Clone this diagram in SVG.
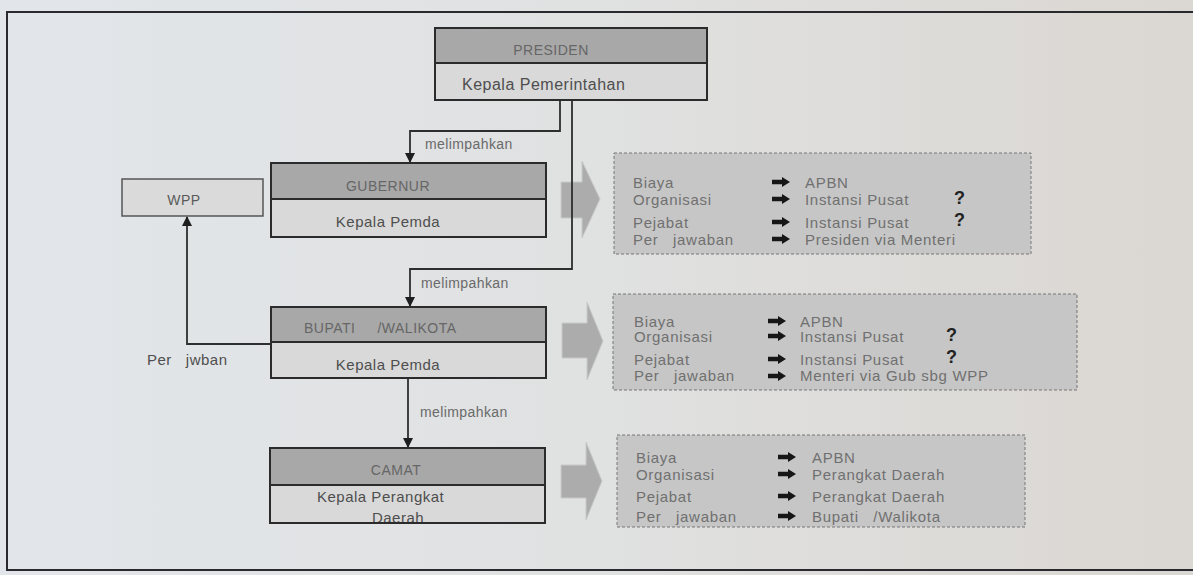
<svg xmlns="http://www.w3.org/2000/svg" width="1193" height="575" viewBox="0 0 1193 575">
<defs>
<linearGradient id="bg" x1="0" y1="0" x2="1" y2="0">
<stop offset="0" stop-color="#e2e6ea"/>
<stop offset="0.5" stop-color="#e0e1e1"/>
<stop offset="1" stop-color="#dbd7d2"/>
</linearGradient>
<marker id="ah" viewBox="0 0 10 10" refX="9" refY="5" markerWidth="10" markerHeight="10" markerUnits="userSpaceOnUse" orient="auto">
<path d="M0,0 L10,5 L0,10 Z" fill="#1e1e1e"/>
</marker>
<path id="sa" d="M0,-2.2 H10 V-5 L18,0 L10,5 V2.2 H0 Z"/>
</defs>
<style>
.frame{fill:none;stroke:#2a2a2e;stroke-width:2}
.hdr{fill:#a8a8a8;stroke:#2b2b2b;stroke-width:2}
.low{fill:#d9d9d9;stroke:#2b2b2b;stroke-width:2}
.wpp{fill:#dadada;stroke:#555;stroke-width:1.5}
.conn{fill:none;stroke:#2e2e2e;stroke-width:1.8}
.big{fill:#acacac;stroke:#c9c9c9;stroke-width:1}
.info{fill:#c6c6c6;stroke:#777;stroke-width:1;stroke-dasharray:3,2}
.nt{font-family:"Liberation Sans",Arial,sans-serif;font-size:15px;fill:#4e4e4e;letter-spacing:0.5px}
.ht{font-family:"Liberation Sans",Arial,sans-serif;font-size:14px;fill:#6a6a6a;letter-spacing:0.4px}
.it{font-family:"Liberation Sans",Arial,sans-serif;font-size:15px;fill:#707070;letter-spacing:0.7px}
.q{font-family:"Liberation Sans",Arial,sans-serif;font-size:18px;fill:#222;font-weight:bold}
.sa{fill:#161616}
</style>
<rect x="0" y="0" width="1193" height="575" fill="url(#bg)"/>
<rect class="frame" x="7" y="12" width="1200" height="558"/>

<g id="connectors">
<path class="conn" d="M560,100 V131 H410 V162" marker-end="url(#ah)"/>
<path class="conn" d="M408,378 V447" marker-end="url(#ah)"/>
<path class="conn" d="M271,344 H187 V217" marker-end="url(#ah)"/>
<text class="ht" x="425" y="149">melimpahkan</text>
<text class="ht" x="421" y="288">melimpahkan</text>
<text class="ht" x="420" y="417">melimpahkan</text>
<text class="nt" x="147" y="365" xml:space="preserve">Per   jwban</text>
</g>

<g id="arrow1">
<path class="big" d="M561,182 H582 V161 L600,199 L582,238 V218 H561 Z"/>
</g>
<g id="arrow2">
<path class="big" d="M562,323 H587 V302 L603,341 L587,380 V358 H562 Z"/>
</g>
<g id="arrow3">
<path class="big" d="M561,465 H586 V442 L602,481 L586,520 V498 H561 Z"/>
</g>

<path class="conn" d="M572,100 V269 H410 V306" marker-end="url(#ah)"/>

<g id="presiden">
<rect class="hdr" x="435" y="28" width="272" height="35"/>
<rect class="low" x="435" y="63" width="272" height="37"/>
<text class="nt" x="551" y="55" text-anchor="middle" style="fill:#666;font-size:14px">PRESIDEN</text>
<text class="nt" x="462" y="90" style="font-size:16px">Kepala Pemerintahan</text>
</g>

<g id="gubernur">
<rect class="hdr" x="271" y="163" width="275" height="36"/>
<rect class="low" x="271" y="199" width="275" height="38"/>
<text class="nt" x="388" y="191" text-anchor="middle" style="fill:#666;font-size:14px">GUBERNUR</text>
<text class="nt" x="388" y="227" text-anchor="middle">Kepala Pemda</text>
</g>

<g id="wpp">
<rect class="wpp" x="122" y="179" width="141" height="37"/>
<text class="nt" x="184" y="205" text-anchor="middle" style="fill:#5a5a5a;font-size:14px">WPP</text>
</g>

<g id="bupati">
<rect class="hdr" x="271" y="307" width="275" height="35"/>
<rect class="low" x="271" y="342" width="275" height="36"/>
<text class="nt" x="304" y="333" style="fill:#666;font-size:14px" xml:space="preserve">BUPATI     /WALIKOTA</text>
<text class="nt" x="388" y="370" text-anchor="middle">Kepala Pemda</text>
</g>

<g id="camat">
<rect class="hdr" x="270" y="448" width="275" height="37"/>
<rect class="low" x="270" y="485" width="275" height="38"/>
<text class="nt" x="396" y="475" text-anchor="middle" style="fill:#666;font-size:14px">CAMAT</text>
<text class="nt" x="317" y="502">Kepala Perangkat</text>
<text class="nt" x="398" y="523" text-anchor="middle">Daerah</text>
<path d="M270,523 H545" stroke="#2b2b2b" stroke-width="2"/>
</g>

<g id="info1">
<rect class="info" x="614" y="153" width="417" height="101"/>
<text class="it" x="633" y="188">Biaya</text>
<text class="it" x="633" y="205">Organisasi</text>
<text class="it" x="633" y="228">Pejabat</text>
<text class="it" x="633" y="245" xml:space="preserve">Per   jawaban</text>
<use href="#sa" class="sa" x="772" y="182"/>
<use href="#sa" class="sa" x="772" y="199"/>
<use href="#sa" class="sa" x="772" y="222"/>
<use href="#sa" class="sa" x="772" y="239"/>
<text class="it" x="805" y="188">APBN</text>
<text class="it" x="805" y="205">Instansi Pusat</text>
<text class="it" x="805" y="228">Instansi Pusat</text>
<text class="it" x="805" y="245">Presiden via Menteri</text>
<text class="q" x="954" y="204">?</text>
<text class="q" x="954" y="226">?</text>
</g>

<g id="info2">
<rect class="info" x="613" y="294" width="464" height="96"/>
<text class="it" x="634" y="327">Biaya</text>
<text class="it" x="634" y="342">Organisasi</text>
<text class="it" x="634" y="365">Pejabat</text>
<text class="it" x="634" y="381" xml:space="preserve">Per   jawaban</text>
<use href="#sa" class="sa" x="768" y="321"/>
<use href="#sa" class="sa" x="768" y="336"/>
<use href="#sa" class="sa" x="768" y="359"/>
<use href="#sa" class="sa" x="768" y="376"/>
<text class="it" x="800" y="327">APBN</text>
<text class="it" x="800" y="342">Instansi Pusat</text>
<text class="it" x="800" y="365">Instansi Pusat</text>
<text class="it" x="800" y="381">Menteri via Gub sbg WPP</text>
<text class="q" x="946" y="341">?</text>
<text class="q" x="946" y="363">?</text>
</g>

<g id="info3">
<rect class="info" x="617" y="435" width="408" height="92"/>
<text class="it" x="636" y="463">Biaya</text>
<text class="it" x="636" y="480">Organisasi</text>
<text class="it" x="636" y="502">Pejabat</text>
<text class="it" x="636" y="522" xml:space="preserve">Per   jawaban</text>
<use href="#sa" class="sa" x="778" y="457"/>
<use href="#sa" class="sa" x="778" y="474"/>
<use href="#sa" class="sa" x="778" y="496"/>
<use href="#sa" class="sa" x="778" y="516"/>
<text class="it" x="812" y="463">APBN</text>
<text class="it" x="812" y="480">Perangkat Daerah</text>
<text class="it" x="812" y="502">Perangkat Daerah</text>
<text class="it" x="812" y="522" xml:space="preserve">Bupati   /Walikota</text>
</g>
</svg>
